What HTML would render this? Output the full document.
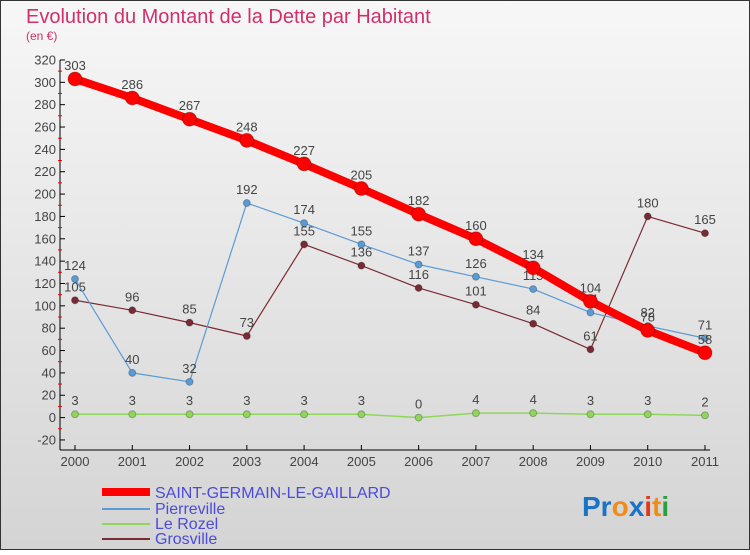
<!DOCTYPE html>
<html><head><meta charset="utf-8"><style>
body{margin:0}
svg text{font-family:"Liberation Sans",sans-serif}
</style></head><body>
<svg width="750" height="550" xmlns="http://www.w3.org/2000/svg">
<defs><linearGradient id="bg" x1="0" y1="0" x2="0" y2="1"><stop offset="0" stop-color="#f7f7f7"/><stop offset="1" stop-color="#d4d4d4"/></linearGradient></defs>
<rect x="0.5" y="0.5" width="749" height="549" fill="url(#bg)" stroke="#333"/>
<text x="26" y="23" font-size="20" fill="#d0306a">Evolution du Montant de la Dette par Habitant</text>
<text x="26" y="40" font-size="12" fill="#d0306a">(en €)</text>
<g id="axes"></g>
<g id="series"></g>
<g>
<line x1="102" y1="492" x2="150" y2="492" stroke="#f00" stroke-width="8"/><text x="155" y="498" font-size="16" fill="#4b4bdc">SAINT-GERMAIN-LE-GAILLARD</text>
<line x1="102" y1="509" x2="150" y2="509" stroke="#5b9bd5" stroke-width="2"/><text x="155" y="514" font-size="16" fill="#4b4bdc">Pierreville</text>
<line x1="102" y1="524" x2="150" y2="524" stroke="#8fd65a" stroke-width="2"/><text x="155" y="529" font-size="16" fill="#4b4bdc">Le Rozel</text>
<line x1="102" y1="539" x2="150" y2="539" stroke="#7a2a34" stroke-width="2"/><text x="155" y="544" font-size="16" fill="#4b4bdc">Grosville</text>
</g>
<text x="582" y="516" font-size="28" font-weight="bold"><tspan fill="#1a73c9">Pr</tspan><tspan fill="#f08c1a">o</tspan><tspan fill="#1a73c9">x</tspan><tspan fill="#e03a1a">i</tspan><tspan fill="#f08c1a">t</tspan><tspan fill="#2aa040">i</tspan></text>
</svg>
<script>
const years=["2000","2001","2002","2003","2004","2005","2006","2007","2008","2009","2010","2011"];
const saint=[303,286,267,248,227,205,182,160,134,104,78,58];
const pierre=[124,40,32,192,174,155,137,126,115,94,82,71];
const rozel=[3,3,3,3,3,3,0,4,4,3,3,2];
const gros=[105,96,85,73,155,136,116,101,84,61,180,165];
const yTicks=[-20,0,20,40,60,80,100,120,140,160,180,200,220,240,260,280,300,320];
const NS="http://www.w3.org/2000/svg";
const X=i=>75+i*(630/11);
const Y=v=>417.6-v*1.1176;
function mk(t,a,p){const e=document.createElementNS(NS,t);for(const k in a)e.setAttribute(k,a[k]);p.appendChild(e);return e;}
const ax=document.getElementById('axes');
let l=mk('line',{x1:60,y1:60,x2:60,y2:450,stroke:'#000'},ax);


l=mk('line',{x1:60,y1:450,x2:710,y2:450,stroke:'#000'},ax);


yTicks.forEach(v=>{const y=Y(v);
mk('line',{x1:60,y1:y,x2:65,y2:y,stroke:'#000'},ax);
if(v<320)mk('line',{x1:58,y1:y-11.2,x2:62,y2:y-11.2,stroke:'#e00'},ax);
const t=mk('text',{x:56,y:y+4.5,'font-size':13,fill:'#444','text-anchor':'end'},ax);t.textContent=v;

});
years.forEach((yr,i)=>{mk('line',{x1:X(i),y1:445,x2:X(i),y2:450,stroke:'#000'},ax);
const t=mk('text',{x:X(i),y:466,'font-size':13,fill:'#444','text-anchor':'middle'},ax);t.textContent=yr;

});
const sg=document.getElementById('series');
function draw(vals,color,w,r,name){
const g=mk('g',{},sg);


mk('polyline',{points:vals.map((v,i)=>X(i)+','+Y(v)).join(' '),fill:'none',stroke:color,'stroke-width':w,'stroke-linejoin':'round'},g);
vals.forEach((v,i)=>{const c=mk('circle',{cx:X(i),cy:Y(v),r:r,fill:color,stroke:'rgba(0,0,0,0.25)'},g);


const t=mk('text',{x:X(i),y:Y(v)-9,'font-size':13,fill:'#444','text-anchor':'middle'},g);t.textContent=v;});}
draw(rozel,'#8fd65a',1.5,3.5,'series-le-rozel');
draw(gros,'#7a2a34',1.2,3.5,'series-grosville');
draw(pierre,'#5b9bd5',1.2,3.5,'series-pierreville');
draw(saint,'#f00',8,7,'series-saint-germain');
</script>
</body></html>
